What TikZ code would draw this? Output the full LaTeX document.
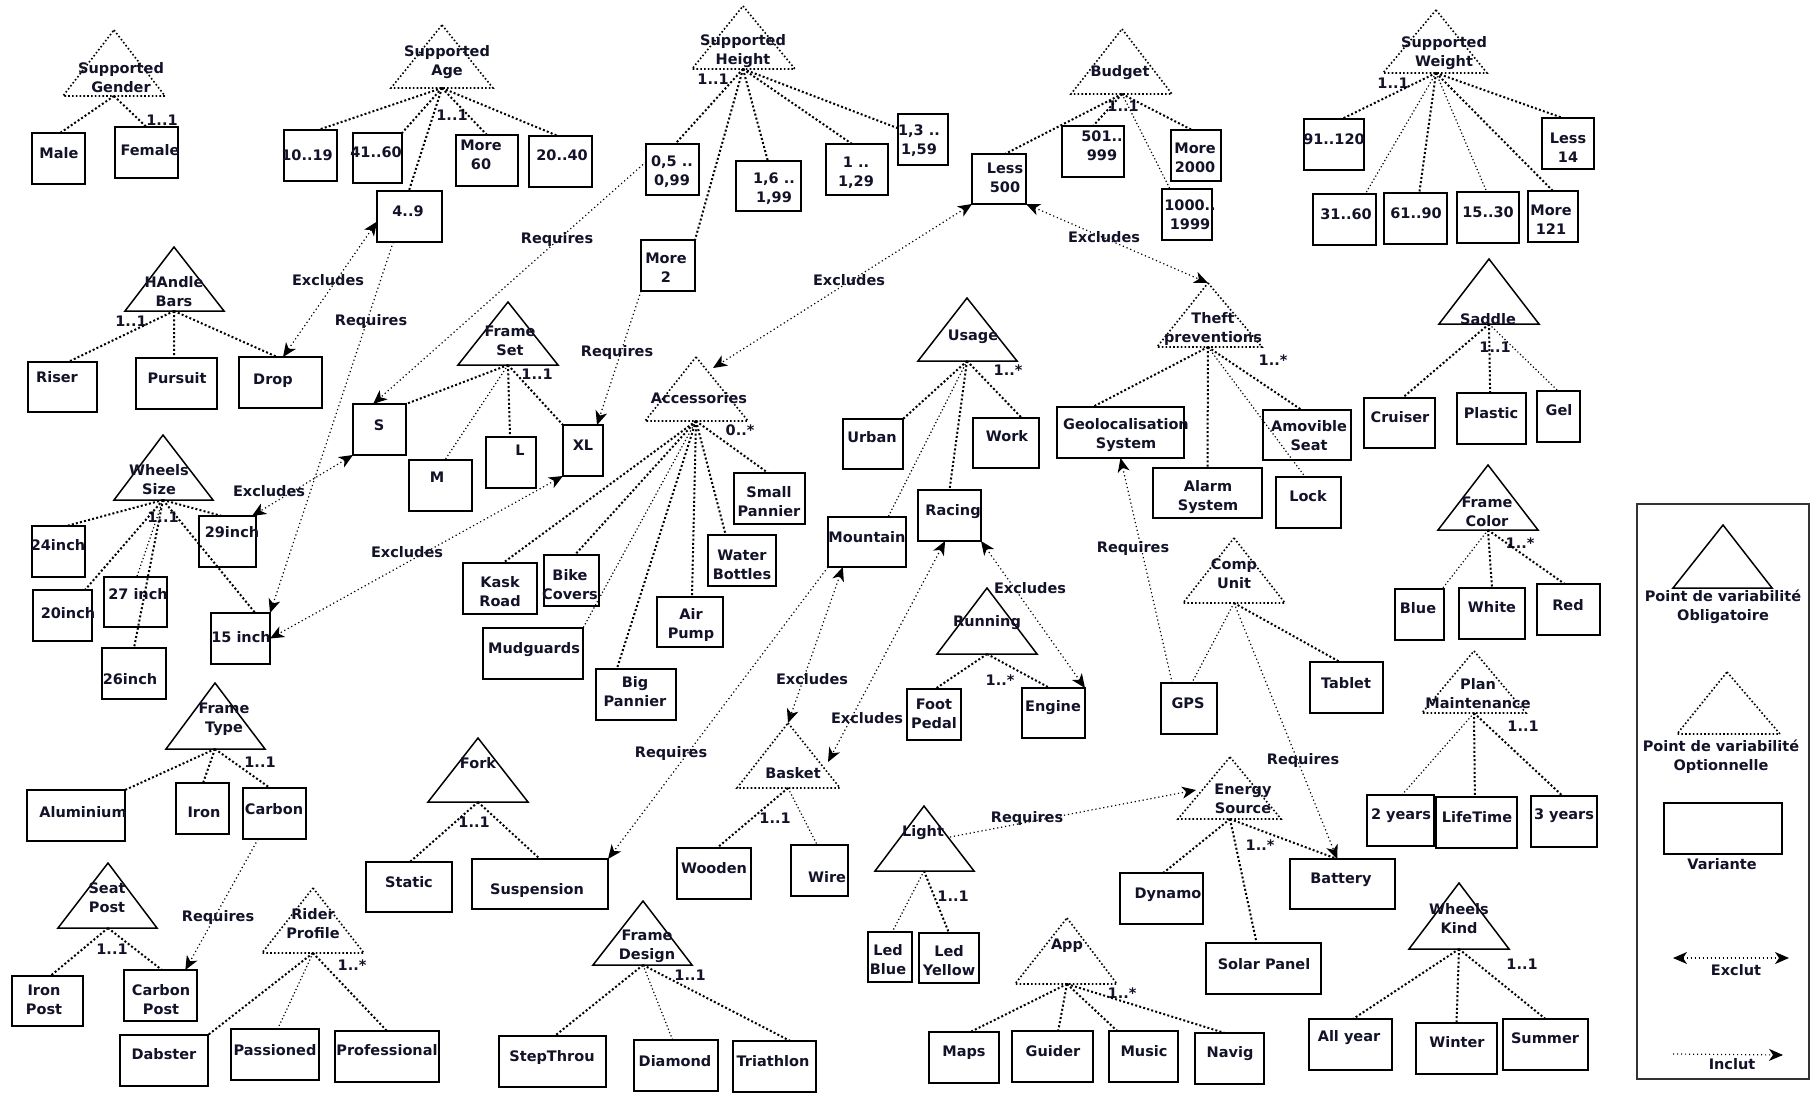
\documentclass[tikz,border=0pt]{standalone}
\usepackage{fontspec}
\setmainfont{DejaVu Sans}
\usetikzlibrary{calc,arrows.meta}
\definecolor{tc}{RGB}{18,18,40}
\tikzset{
 vb/.style={draw=black, line width=1pt, inner sep=0pt, outer sep=0pt, rectangle},
 tx/.style={font=\fontsize{7.25}{9.5}\selectfont\bfseries, text=tc, align=center, inner sep=0pt},
 mand/.style={draw=black, line width=0.75pt, line join=miter},
 opt/.style={draw=black, line width=0.8pt, dash pattern=on 0.8pt off 1.1pt},
 he/.style={draw=black, line width=1pt, dash pattern=on 1pt off 1.1pt},
 het/.style={draw=black, line width=0.6pt, dash pattern=on 0.6pt off 1.2pt},
 tip/.tip={Stealth[length=7pt,width=6pt,inset=2pt]},
 req/.style={draw=black, line width=0.6pt, dash pattern=on 0.6pt off 1.4pt, -tip},
 exc/.style={draw=black, line width=0.6pt, dash pattern=on 0.6pt off 1.4pt, tip-tip},
}
\newcommand\mkbox[8]{%
 \node[vb, minimum width={(#4-#2)/2}, minimum height={(#5-#3)/2}] (#1) at ({(#2+#4)/2},{(#3+#5)/2}) {};
 \node[tx] (#1-t) at (#6,#7) {#8};}
\newcommand\mktri[7]{%
 \coordinate (#1-a) at (#2,#3);
 \coordinate (#1-l) at (#4,#6);
 \coordinate (#1-r) at (#5,#6);
 \coordinate (#1-b) at (#2,#6);
 \draw[#7] (#1-a) -- (#1-r) -- (#1-l) -- cycle;}
\newcommand\mkedge[4][he]{\draw[#1] (#2-b) -- ($(#3.north west)!#4!(#3.north east)$);}
\begin{document}
\begin{tikzpicture}[x=0.5pt,y=-0.5pt]
\fill[white] (0,0) rectangle (1810,1093);
\useasboundingbox (0,0) rectangle (1810,1093);

% ---------- triangles ----------
\mktri{gender}{114}{30}{63}{165}{96}{opt}
\mktri{age}{442}{25}{391}{493}{88}{opt}
\mktri{height}{743}{6}{692}{795}{69}{opt}
\mktri{budget}{1122}{29}{1071}{1172}{94}{opt}
\mktri{weight}{1436}{10}{1383}{1487}{73}{opt}
\mktri{handle}{174}{247}{125}{224}{311}{mand}
\mktri{fset}{508}{302}{458}{558}{365}{mand}
\mktri{acc}{696}{357}{645}{748}{421}{opt}
\mktri{usage}{967}{298}{918}{1017}{361}{mand}
\mktri{theft}{1208}{283}{1157}{1262}{347}{opt}
\mktri{saddle}{1489}{259}{1439}{1539}{324}{mand}
\mktri{wsize}{163}{435}{114}{213}{500}{mand}
\mktri{ftype}{215}{683}{166}{265}{749}{mand}
\mktri{seat}{108}{863}{58}{157}{928}{mand}
\mktri{rider}{313}{888}{262}{364}{953}{opt}
\mktri{fork}{478}{738}{428}{528}{802}{mand}
\mktri{fdesign}{643}{901}{593}{692}{965}{mand}
\mktri{basket}{788}{723}{737}{840}{788}{opt}
\mktri{running}{987}{588}{937}{1037}{654}{mand}
\mktri{comp}{1234}{538}{1183}{1285}{603}{opt}
\mktri{energy}{1230}{757}{1178}{1281}{819}{opt}
\mktri{light}{924}{806}{875}{974}{871}{mand}
\mktri{app}{1067}{918}{1015}{1117}{984}{opt}
\mktri{fcolor}{1488}{465}{1438}{1538}{530}{mand}
\mktri{plan}{1474}{651}{1422}{1526}{713}{opt}
\mktri{wkind}{1459}{883}{1409}{1509}{949}{mand}

\node[tx] (gender-t) at (121,78) {Supported\\Gender};
\node[tx] (age-t) at (447,62) {Supported\\Age};
\node[tx] (height-t) at (743,51) {Supported\\Height};
\node[tx] (budget-t) at (1120,73) {Budget};
\node[tx] (weight-t) at (1444,53) {Supported\\Weight};
\node[tx] (handle-t) at (174,292) {HAndle\\Bars};
\node[tx] (fset-t) at (510,341) {Frame\\Set};
\node[tx] (acc-t) at (699,398) {Accessories};
\node[tx] (usage-t) at (973,337) {Usage};
\node[tx] (theft-t) at (1213,329) {Theft\\preventions};
\node[tx] (saddle-t) at (1488,319) {Saddle};
\node[tx] (wsize-t) at (159,480) {Wheels\\Size};
\node[tx] (ftype-t) at (224,719) {Frame\\Type};
\node[tx] (seat-t) at (107,898) {Seat\\Post};
\node[tx] (rider-t) at (313,924) {Rider\\Profile};
\node[tx] (fork-t) at (478,763) {Fork};
\node[tx] (fdesign-t) at (647,946) {Frame\\Design};
\node[tx] (basket-t) at (793,773) {Basket};
\node[tx] (running-t) at (987,623) {Running};
\node[tx] (comp-t) at (1234,574) {Comp\\Unit};
\node[tx] (energy-t) at (1243,799) {Energy\\Source};
\node[tx] (light-t) at (923,833) {Light};
\node[tx] (app-t) at (1067,946) {App};
\node[tx] (fcolor-t) at (1487,512) {Frame\\Color};
\node[tx] (plan-t) at (1478,694) {Plan\\Maintenance};
\node[tx] (wkind-t) at (1459,919) {Wheels\\Kind};

% ---------- cardinalities ----------
\node[tx] (c1) at (162,120) {1..1};
\node[tx] (c2) at (452,115) {1..1};
\node[tx] (c3) at (713,79) {1..1};
\node[tx] (c4) at (1123,106) {1..1};
\node[tx] (c5) at (1393,83) {1..1};
\node[tx] (c6) at (131,321) {1..1};
\node[tx] (c7) at (537,374) {1..1};
\node[tx] (c8) at (740,430) {0..*};
\node[tx] (c9) at (1008,370) {1..*};
\node[tx] (c10) at (1273,360) {1..*};
\node[tx] (c11) at (1495,347) {1..1};
\node[tx] (c12) at (163,517) {1..1};
\node[tx] (c13) at (260,762) {1..1};
\node[tx] (c14) at (112,949) {1..1};
\node[tx] (c15) at (352,965) {1..*};
\node[tx] (c16) at (474,822) {1..1};
\node[tx] (c17) at (690,975) {1..1};
\node[tx] (c18) at (775,818) {1..1};
\node[tx] (c19) at (1000,680) {1..*};
\node[tx] (c20) at (1260,845) {1..*};
\node[tx] (c21) at (953,896) {1..1};
\node[tx] (c22) at (1122,993) {1..*};
\node[tx] (c23) at (1520,543) {1..*};
\node[tx] (c24) at (1523,726) {1..1};
\node[tx] (c25) at (1522,964) {1..1};

% ---------- variant boxes ----------
\mkbox{male}{32}{133}{85}{184}{59}{153}{Male}
\mkbox{female}{115}{127}{178}{178}{150}{150}{Female}
\mkbox{a1019}{284}{130}{337}{181}{307}{155}{10..19}
\mkbox{a4160}{353}{133}{402}{183}{376}{152}{41..60}
\mkbox{am60}{456}{135}{518}{186}{481}{155}{More\\60}
\mkbox{a2040}{529}{136}{592}{187}{562}{155}{20..40}
\mkbox{a49}{377}{191}{442}{242}{408}{211}{4..9}
\mkbox{h05}{646}{144}{699}{195}{672}{172}{0,5 ..\\0,99}
\mkbox{h16}{736}{161}{801}{211}{774}{189}{1,6 ..\\1,99}
\mkbox{h1}{826}{144}{888}{195}{856}{173}{1 ..\\1,29}
\mkbox{h13}{898}{114}{948}{165}{919}{141}{1,3 ..\\1,59}
\mkbox{hm2}{641}{240}{695}{291}{666}{268}{More\\2}
\mkbox{bl500}{972}{154}{1026}{204}{1005}{178}{Less\\500}
\mkbox{b501}{1062}{126}{1124}{177}{1102}{146}{501..\\999}
\mkbox{bm2000}{1171}{130}{1221}{181}{1195}{158}{More\\2000}
\mkbox{b1000}{1162}{189}{1212}{240}{1190}{215}{1000..\\1999}
\mkbox{wt91}{1304}{119}{1364}{170}{1334}{139}{91..120}
\mkbox{wtl14}{1542}{118}{1594}{169}{1568}{148}{Less\\14}
\mkbox{wt31}{1313}{194}{1376}{245}{1346}{214}{31..60}
\mkbox{wt61}{1384}{193}{1447}{244}{1416}{213}{61..90}
\mkbox{wt15}{1457}{192}{1519}{243}{1488}{212}{15..30}
\mkbox{wtm121}{1528}{191}{1578}{242}{1551}{220}{More\\121}
\mkbox{riser}{28}{362}{97}{412}{57}{377}{Riser}
\mkbox{pursuit}{136}{358}{217}{409}{177}{378}{Pursuit}
\mkbox{drop}{239}{357}{322}{408}{273}{381}{Drop}
\mkbox{fsS}{353}{404}{406}{455}{379}{425}{S}
\mkbox{fsM}{409}{460}{472}{511}{437}{477}{M}
\mkbox{fsL}{486}{437}{536}{488}{520}{450}{L}
\mkbox{fsXL}{563}{425}{603}{476}{583}{445}{XL}
\mkbox{kask}{463}{563}{537}{614}{500}{592}{Kask\\Road}
\mkbox{bike}{544}{555}{599}{606}{570}{585}{Bike\\Covers}
\mkbox{mud}{483}{628}{583}{679}{534}{650}{Mudguards}
\mkbox{bigp}{596}{669}{676}{720}{635}{692}{Big\\Pannier}
\mkbox{air}{657}{597}{723}{647}{691}{625}{Air\\Pump}
\mkbox{water}{708}{535}{776}{586}{742}{565}{Water\\Bottles}
\mkbox{smallp}{734}{473}{805}{524}{769}{502}{Small\\Pannier}
\mkbox{urban}{843}{419}{903}{469}{872}{437}{Urban}
\mkbox{work}{973}{418}{1039}{468}{1007}{436}{Work}
\mkbox{racing}{918}{490}{981}{541}{953}{512}{Racing}
\mkbox{mountain}{828}{517}{906}{567}{867}{537}{Mountain}
\mkbox{geo}{1057}{407}{1184}{458}{1126}{435}{Geolocalisation\\System}
\mkbox{alarm}{1153}{468}{1262}{518}{1208}{497}{Alarm\\System}
\mkbox{amov}{1263}{410}{1351}{460}{1309}{436}{Amovible\\Seat}
\mkbox{lock}{1276}{477}{1341}{528}{1308}{496}{Lock}
\mkbox{cruiser}{1364}{398}{1435}{448}{1400}{417}{Cruiser}
\mkbox{plastic}{1457}{393}{1526}{444}{1491}{413}{Plastic}
\mkbox{gel}{1537}{391}{1580}{442}{1559}{410}{Gel}
\mkbox{ws24}{32}{526}{85}{577}{58}{545}{24inch}
\mkbox{ws20}{33}{590}{92}{641}{68}{613}{20inch}
\mkbox{ws27}{104}{577}{167}{627}{138}{594}{27 inch}
\mkbox{ws26}{102}{648}{166}{699}{130}{679}{26inch}
\mkbox{ws29}{199}{516}{256}{567}{232}{532}{29inch}
\mkbox{ws15}{211}{613}{270}{664}{241}{637}{15 inch}
\mkbox{alu}{27}{790}{125}{841}{83}{812}{Aluminium}
\mkbox{iron}{176}{783}{229}{834}{204}{812}{Iron}
\mkbox{carbon}{243}{788}{306}{839}{274}{809}{Carbon}
\mkbox{ironpost}{12}{976}{83}{1026}{44}{1000}{Iron\\Post}
\mkbox{carbpost}{124}{970}{197}{1021}{161}{1000}{Carbon\\Post}
\mkbox{dabster}{120}{1035}{208}{1086}{164}{1054}{Dabster}
\mkbox{passioned}{231}{1029}{319}{1080}{275}{1050}{Passioned}
\mkbox{prof}{335}{1031}{439}{1082}{387}{1050}{Professional}
\mkbox{static}{366}{862}{452}{912}{409}{882}{Static}
\mkbox{susp}{472}{859}{608}{909}{537}{890}{Suspension}
\mkbox{stepthr}{499}{1036}{606}{1087}{552}{1057}{StepThrou}
\mkbox{diamond}{634}{1040}{718}{1091}{675}{1061}{Diamond}
\mkbox{triath}{733}{1041}{816}{1092}{773}{1061}{Triathlon}
\mkbox{wooden}{677}{848}{751}{899}{714}{868}{Wooden}
\mkbox{wire}{791}{845}{848}{896}{827}{877}{Wire}
\mkbox{foot}{907}{689}{961}{740}{934}{714}{Foot\\Pedal}
\mkbox{engine}{1022}{688}{1085}{738}{1053}{708}{Engine}
\mkbox{gps}{1161}{683}{1217}{734}{1188}{703}{GPS}
\mkbox{tablet}{1310}{662}{1383}{713}{1346}{683}{Tablet}
\mkbox{dynamo}{1120}{873}{1203}{924}{1168}{895}{Dynamo}
\mkbox{solar}{1206}{943}{1321}{994}{1264}{964}{Solar Panel}
\mkbox{battery}{1290}{859}{1395}{909}{1341}{880}{Battery}
\mkbox{ledb}{868}{932}{912}{982}{888}{960}{Led\\Blue}
\mkbox{ledy}{919}{933}{979}{983}{949}{961}{Led\\Yellow}
\mkbox{maps}{929}{1032}{999}{1083}{964}{1053}{Maps}
\mkbox{guider}{1012}{1031}{1093}{1082}{1053}{1051}{Guider}
\mkbox{music}{1109}{1031}{1178}{1082}{1144}{1051}{Music}
\mkbox{navig}{1195}{1033}{1264}{1084}{1230}{1054}{Navig}
\mkbox{blue}{1395}{589}{1444}{640}{1418}{608}{Blue}
\mkbox{white}{1459}{588}{1525}{639}{1492}{607}{White}
\mkbox{red}{1537}{584}{1600}{635}{1568}{605}{Red}
\mkbox{y2}{1367}{795}{1434}{846}{1401}{816}{2 years}
\mkbox{life}{1436}{797}{1517}{848}{1477}{817}{LifeTime}
\mkbox{y3}{1531}{796}{1597}{847}{1564}{816}{3 years}
\mkbox{allyear}{1309}{1019}{1392}{1070}{1349}{1038}{All year}
\mkbox{winter}{1416}{1023}{1497}{1074}{1457}{1042}{Winter}
\mkbox{summer}{1503}{1019}{1588}{1070}{1545}{1038}{Summer}

% ---------- hierarchy edges ----------
\mkedge{gender}{male}{.53}
\mkedge{gender}{female}{.5}
\mkedge{age}{a1019}{.64}
\mkedge{age}{a4160}{1}
\mkedge{age}{am60}{.5}
\mkedge{age}{a2040}{.46}
\mkedge{age}{a49}{.49}
\mkedge{height}{h05}{.55}
\mkedge{height}{h16}{.49}
\mkedge{height}{h1}{.42}
\mkedge{height}{hm2}{1}
\draw[he] (height-b) -- ($(h13.north west)!0.28!(h13.south west)$);
\mkedge{budget}{bl500}{.61}
\mkedge{budget}{b501}{.5}
\mkedge{budget}{bm2000}{.42}
\mkedge[het]{budget}{b1000}{.16}
\mkedge{weight}{wt91}{.63}
\mkedge[het]{weight}{wt31}{.83}
\mkedge{weight}{wt61}{.56}
\mkedge[het]{weight}{wt15}{.48}
\mkedge{weight}{wtm121}{.5}
\mkedge{weight}{wtl14}{.4}
\mkedge{handle}{riser}{.58}
\mkedge{handle}{pursuit}{.47}
\mkedge{handle}{drop}{.46}
\mkedge{fset}{fsS}{1}
\mkedge[het]{fset}{fsM}{.57}
\mkedge{fset}{fsL}{.48}
\mkedge{fset}{fsXL}{0}
\mkedge{acc}{kask}{.54}
\mkedge{acc}{bike}{.56}
\mkedge[het]{acc}{mud}{1}
\mkedge{acc}{bigp}{.26}
\mkedge{acc}{air}{.53}
\mkedge{acc}{water}{.26}
\mkedge{acc}{smallp}{.48}
\mkedge{usage}{urban}{1}
\mkedge{usage}{work}{.74}
\mkedge{usage}{racing}{.5}
\mkedge[het]{usage}{mountain}{.77}
\mkedge{theft}{geo}{.28}
\mkedge{theft}{alarm}{.5}
\mkedge{theft}{amov}{.44}
\mkedge[het]{theft}{lock}{.45}
\mkedge{saddle}{cruiser}{.54}
\mkedge{saddle}{plastic}{.48}
\mkedge[het]{saddle}{gel}{.49}
\mkedge{wsize}{ws24}{.65}
\mkedge{wsize}{ws20}{.88}
\mkedge[het]{wsize}{ws27}{.52}
\mkedge{wsize}{ws26}{.5}
\mkedge{wsize}{ws29}{.4}
\mkedge{wsize}{ws15}{.75}
\mkedge{ftype}{alu}{1}
\mkedge{ftype}{iron}{.51}
\mkedge{ftype}{carbon}{.43}
\mkedge{seat}{ironpost}{.54}
\mkedge{seat}{carbpost}{.52}
\mkedge{rider}{dabster}{1}
\mkedge[het]{rider}{passioned}{.53}
\mkedge{rider}{prof}{.5}
\mkedge{fork}{static}{.51}
\mkedge{fork}{susp}{.5}
\mkedge{fdesign}{stepthr}{.52}
\mkedge[het]{fdesign}{diamond}{.46}
\mkedge{fdesign}{triath}{.69}
\mkedge{basket}{wooden}{.54}
\mkedge[het]{basket}{wire}{.46}
\mkedge{running}{foot}{.52}
\mkedge{running}{engine}{.44}
\mkedge[het]{comp}{gps}{.55}
\mkedge{comp}{tablet}{.41}
\mkedge{energy}{dynamo}{.52}
\mkedge{energy}{solar}{.44}
\mkedge{energy}{battery}{.45}
\mkedge[het]{light}{ledb}{.55}
\mkedge{light}{ledy}{.5}
\mkedge{app}{maps}{.59}
\mkedge{app}{guider}{.57}
\mkedge{app}{music}{.12}
\mkedge{app}{navig}{.43}
\mkedge[het]{fcolor}{blue}{.96}
\mkedge{fcolor}{white}{.5}
\mkedge{fcolor}{red}{.44}
\mkedge[het]{plan}{y2}{.52}
\mkedge{plan}{life}{.48}
\mkedge{plan}{y3}{.48}
\mkedge{wkind}{allyear}{.53}
\mkedge{wkind}{winter}{.5}
\mkedge{wkind}{summer}{.5}

% ---------- constraints ----------
\coordinate (accx) at (713,368);
\coordinate (basx) at (828,762);
\coordinate (lightx) at (950,837);
\coordinate (energyx) at (1196,790);
\draw[exc] ($(drop.north west)!0.53!(drop.north east)$) -- ($(a49.north west)!0.6!(a49.south west)$);
\draw[req] ($(a49.south west)!0.25!(a49.south east)$) -- (ws15.north east);
\draw[req] ($(h05.north west)!0.35!(h05.south west)$) -- ($(fsS.north west)!0.38!(fsS.north east)$);
\draw[req] (hm2.south west) -- ($(fsXL.north west)!0.85!(fsXL.north east)$);
\draw[exc] (bl500.south west) -- (accx);
\draw[exc] (bl500.south east) -- (theft-a);
\draw[exc] (fsS.south west) -- ($(ws29.north west)!0.93!(ws29.north east)$);
\draw[exc] (fsXL.south west) -- (ws15.east);
\draw[req] (mountain.south west) -- (susp.north east);
\draw[exc] ($(mountain.south west)!0.19!(mountain.south east)$) -- (basket-a);
\draw[exc] ($(racing.south west)!0.43!(racing.south east)$) -- (basx);
\draw[exc] (racing.south east) -- (engine.north east);
\draw[req] ($(gps.north west)!0.2!(gps.north east)$) -- (geo.south);
\draw[req] (comp-b) -- ($(battery.north west)!0.45!(battery.north east)$);
\draw[req] (lightx) -- (energyx);
\draw[req] ($(carbon.south west)!0.24!(carbon.south east)$) -- ($(carbpost.north west)!0.84!(carbpost.north east)$);

\node[tx] (l1) at (328,280) {Excludes};
\node[tx] (l2) at (371,321) {Requires};
\node[tx] (l3) at (557,239) {Requires};
\node[tx] (l4) at (617,352) {Requires};
\node[tx] (l5) at (849,280) {Excludes};
\node[tx] (l6) at (1104,237) {Excludes};
\node[tx] (l7) at (269,491) {Excludes};
\node[tx] (l8) at (407,552) {Excludes};
\node[tx] (l9) at (671,753) {Requires};
\node[tx] (l10) at (812,679) {Excludes};
\node[tx] (l11) at (867,718) {Excludes};
\node[tx] (l12) at (1030,588) {Excludes};
\node[tx] (l13) at (1133,548) {Requires};
\node[tx] (l14) at (1303,760) {Requires};
\node[tx] (l15) at (1027,818) {Requires};
\node[tx] (l16) at (218,917) {Requires};

% ---------- legend ----------
\node[draw=black!80, line width=0.6pt, inner sep=0pt, minimum width=86pt, minimum height=287.5pt] (legend) at (1723,791.5) {};
\mktri{legm}{1723}{525}{1673}{1772}{588}{mand}
\mktri{lego}{1727}{672}{1677}{1780}{734}{opt}
\node[tx] (legm-t) at (1723,607) {Point de variabilité\\Obligatoire};
\node[tx] (lego-t) at (1721,757) {Point de variabilité\\Optionnelle};
\mkbox{legv}{1664}{803}{1782}{854}{1722}{864}{Variante}
\coordinate (exl) at (1673,958);
\coordinate (exr) at (1789,958);
\draw[exc] (exl) -- (exr);
\node[tx] (exc-t) at (1736,970) {Exclut};
\coordinate (inl) at (1673,1054);
\coordinate (inr) at (1783,1055);
\draw[req] (inl) -- (inr);
\node[tx] (inc-t) at (1732,1064) {Inclut};
\end{tikzpicture}
\end{document}
